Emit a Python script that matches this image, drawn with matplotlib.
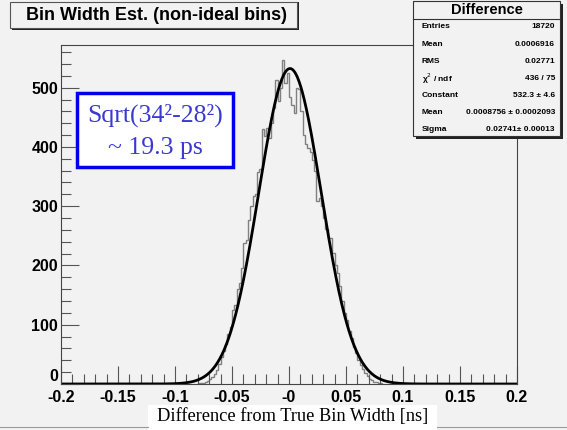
import numpy as np
import matplotlib
matplotlib.use('Agg')
import matplotlib.pyplot as plt
from matplotlib.patches import Rectangle
from matplotlib.lines import Line2D
from matplotlib.ticker import MultipleLocator

# histogram: 200 bins over [-0.2, 0.2], only the filled region listed
bin_lo = -0.080
bin_w = 0.002
counts = [1, 1, 2, 3, 5, 8, 12, 17, 24, 33,
          45, 55, 68, 85, 96, 125, 133, 160, 170, 195,
          238, 243, 277, 300, 318, 320, 357, 362, 430, 418,
          432, 415, 440, 466, 513, 478, 500, 547, 508, 525,
          484, 470, 458, 500, 498, 460, 420, 405, 398, 392,
          378, 360, 308, 314, 300, 280, 262, 246, 246, 221,
          200, 187, 165, 140, 120, 108, 90, 78, 62, 52,
          40, 32, 25, 18, 13, 9, 6, 4, 3, 2, 1]

# gaus fit result
fit_const = 532.3
fit_mean = 0.0008756
fit_sigma = 0.02741

stats_rows = [("Entries", "18720"),
              ("Mean", "0.0006916"),
              ("RMS", "0.02771"),
              ("\u03c7$^{2}$ / ndf", "436 / 75"),
              ("Constant", "532.3 \u00b1 4.6"),
              ("Mean", "0.0008756 \u00b1 0.0002093"),
              ("Sigma", "0.02741\u00b1 0.00013")]

xticks = [-0.2, -0.15, -0.1, -0.05, 0.0, 0.05, 0.1, 0.15, 0.2]
xticklabels = ["-0.2", "-0.15", "-0.1", "-0.05", "-0", "0.05", "0.1", "0.15", "0.2"]
yticks = [0, 100, 200, 300, 400, 500]

W, H = 567, 430
bg = '#f2f2f2'

def fx(px):
    return px / W

def fy(py):
    return 1 - py / H

fig = plt.figure(figsize=(W / 100, H / 100), dpi=100, facecolor=bg)
ax = fig.add_axes([fx(61), fy(384), fx(517) - fx(61), fy(45) - fy(384)])
ax.set_facecolor(bg)

edges = bin_lo + bin_w * np.arange(len(counts) + 1)
ax.stairs(counts, edges, color='#808080', lw=1.0)

xs = np.linspace(-0.2, 0.2, 800)
ax.plot(xs, fit_const * np.exp(-0.5 * ((xs - fit_mean) / fit_sigma) ** 2),
        color='black', lw=2)

ax.set_xlim(-0.2, 0.2)
ax.set_ylim(0, 572)
ax.set_xticks(xticks)
ax.set_xticklabels(xticklabels)
ax.set_yticks(yticks)
ax.xaxis.set_minor_locator(MultipleLocator(0.01))
ax.yaxis.set_minor_locator(MultipleLocator(20))
ax.tick_params(which='both', direction='in', top=False, right=False, color='#555555')
ax.tick_params(which='major', length=13, width=0.8, labelsize=11.5)
ax.tick_params(axis='x', pad=4)
ax.tick_params(axis='y', pad=2)
ax.tick_params(which='minor', length=7, width=0.8)
for lab in ax.get_xticklabels() + ax.get_yticklabels():
    lab.set_fontweight('bold')
    lab.set_family('Liberation Sans')
# ROOT puts the zero label a little higher
ax.get_yticklabels()[0].set_verticalalignment('bottom')
for sp in ax.spines.values():
    sp.set_color('#444444')
    sp.set_linewidth(0.8)

# x axis title in a white box
fig.add_artist(Rectangle((fx(148), fy(430)), fx(437) - fx(148), fy(405) - fy(430),
                         transform=fig.transFigure, facecolor='white', edgecolor='none'))
fig.text(fx(293), fy(417), "Difference from True Bin Width [ns]", ha='center', va='center',
         family='Liberation Serif', fontsize=13.2)
fig.add_artist(Line2D([0, fx(148)], [fy(427), fy(427)], color='#999999', lw=0.8))
fig.add_artist(Line2D([fx(437), 1], [fy(427), fy(427)], color='#999999', lw=0.8))

# title box with shadow
fig.add_artist(Rectangle((fx(12), fy(30)), fx(297) - fx(10), fy(2) - fy(30),
                         transform=fig.transFigure, facecolor='#222222', edgecolor='none'))
fig.add_artist(Rectangle((fx(10), fy(28)), fx(297) - fx(10), fy(2) - fy(28),
                         transform=fig.transFigure, facecolor=bg, edgecolor='#555555', lw=0.8))
fig.text(fx(157), fy(15), "Bin Width Est. (non-ideal bins)", ha='center', va='center',
         family='Liberation Sans', fontweight='bold', fontsize=13)

# stats box
sx0, sx1, sy0, sy1 = 413, 560, 1, 136
fig.add_artist(Rectangle((fx(sx0 + 3), fy(sy1 + 3)), fx(sx1) - fx(sx0), fy(sy0) - fy(sy1),
                         transform=fig.transFigure, facecolor='#222222', edgecolor='none'))
fig.add_artist(Rectangle((fx(sx0), fy(sy1)), fx(sx1) - fx(sx0), fy(sy0) - fy(sy1),
                         transform=fig.transFigure, facecolor=bg, edgecolor='#333333', lw=0.8))
fig.add_artist(Line2D([fx(sx0), fx(sx1)], [fy(19), fy(19)], color='#333333', lw=0.8))
fig.text(fx((sx0 + sx1) / 2), fy(10), "Difference", ha='center', va='center',
         family='Liberation Sans', fontweight='bold', fontsize=10.5)
for i, (name, val) in enumerate(stats_rows):
    yy = fy(27 + i * 17.1)
    fig.text(fx(422), yy, name, ha='left', va='center',
             family='Liberation Sans', fontweight='bold', fontsize=6)
    fig.text(fx(555), yy, val, ha='right', va='center',
             family='Liberation Sans', fontweight='bold', fontsize=6)

# annotation box
fig.add_artist(Rectangle((fx(77), fy(167)), fx(233) - fx(77), fy(93) - fy(167),
                         transform=fig.transFigure, facecolor='white', edgecolor='#0000ee', lw=2.5))
fig.text(fx(155), fy(115), "Sqrt(34\u00b2-28\u00b2)", ha='center', va='center',
         family='Liberation Serif', fontsize=18.5, color='#3a3ad0')
fig.text(fx(155), fy(148), "~ 19.3 ps", ha='center', va='center',
         family='Liberation Serif', fontsize=18.5, color='#3a3ad0')

fig.savefig('out.png', dpi=100, facecolor=bg)
